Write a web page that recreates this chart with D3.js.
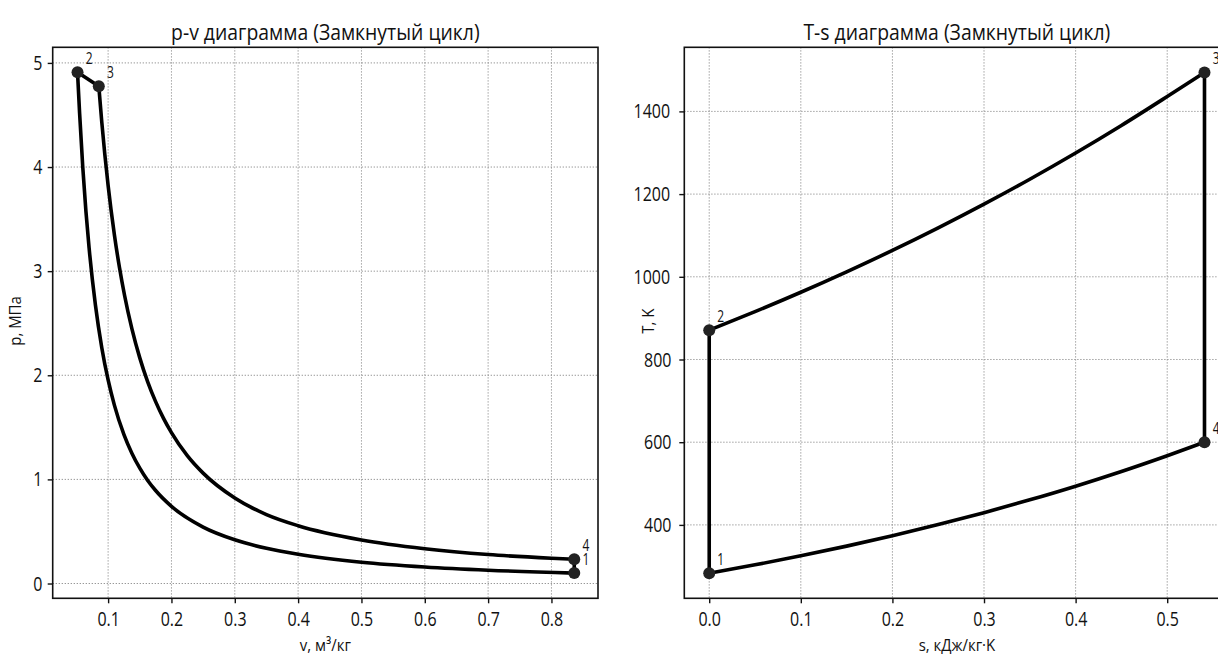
<!DOCTYPE html>
<html><head><meta charset="utf-8">
<script src="https://cdn.jsdelivr.net/npm/d3@7"></script>
<style>
body{margin:0;background:#fff;}
svg text{font-family:"Open Sans",sans-serif;font-weight:500;fill:#111;transform-box:fill-box;transform-origin:center;transform:scaleX(0.78);}
svg text.title{transform:scaleX(0.88);}
svg text.alab{transform:scaleX(0.88);}
svg text.ylab{transform:rotate(-90deg) scaleX(0.88);}
svg text.plab{transform:scaleX(0.75);}
</style></head>
<body><svg id="c" width="1218" height="659"></svg>
<script>
// ---- data ----
const pointNames = ["1","2","3","4"];
// p-v diagram
const pvPointV = [0.836, 0.0517, 0.0853, 0.836];
const pvPointP = [0.100, 4.91, 4.776, 0.233];
const compV = [0.0517,0.055,0.06,0.065,0.07,0.08,0.09,0.1,0.11,0.125,0.1375,0.15,0.1625,0.175,0.2,0.25,0.3,0.35,0.4,0.5,0.6,0.7,0.836];
const compP = [4.91,4.515,3.996,3.572,3.221,2.672,2.265,1.955,1.711,1.43,1.252,1.108,0.99,0.893,0.741,0.542,0.42,0.338,0.281,0.205,0.159,0.128,0.100];
const expV = [0.0853,0.09,0.1,0.11,0.118,0.126,0.1375,0.15,0.1625,0.175,0.1875,0.2,0.225,0.25,0.3,0.35,0.4,0.5,0.6,0.7,0.8,0.836];
const expP = [4.776,4.431,3.823,3.346,3.032,2.766,2.448,2.167,1.937,1.747,1.586,1.449,1.228,1.06,0.821,0.662,0.555,0.418,0.334,0.278,0.243,0.233];
const vTicks = [0.1,0.2,0.3,0.4,0.5,0.6,0.7,0.8];
const pTicks = [0,1,2,3,4,5];
// T-s diagram
const tsPointS = [0, 0, 0.5407, 0.5407];
const tsPointT = [283, 871, 1494, 600];
const heatS = [0,0.05,0.1,0.15,0.2,0.25,0.3,0.35,0.4,0.45,0.5,0.5407];
const heatT = [871,915.7,962.6,1012,1063.8,1118.4,1175.7,1236,1299.4,1366,1436,1494];
const coolS = [0,0.05,0.1,0.15,0.2,0.25,0.3,0.35,0.4,0.45,0.5,0.5407];
const coolT = [283,303.4,325.3,348.7,373.8,400.7,429.6,460.6,493.7,529.3,567.4,600];
const sTicks = [0,0.1,0.2,0.3,0.4,0.5];
const tTicks = [400,600,800,1000,1200,1400];
const titles = ["p-v диаграмма (Замкнутый цикл)","T-s диаграмма (Замкнутый цикл)"];
const xLabels = ["v, м³/кг","s, кДж/кг·K"];
const yLabels = ["p, МПа","T, K"];

const svg = d3.select("#c");

function panel(o){
  const g = svg.append("g");
  const x = d3.scaleLinear().domain(o.xd).range([o.x0,o.x1]);
  const y = d3.scaleLinear().domain(o.yd).range([o.y1,o.y0]);
  // grid
  g.append("g").selectAll("line").data(o.xt).join("line")
    .attr("x1",d=>x(d)).attr("x2",d=>x(d)).attr("y1",o.y0).attr("y2",o.y1)
    .attr("stroke","#8c8c8c").attr("stroke-width",1).attr("stroke-dasharray","1.2,1.8");
  g.append("g").selectAll("line").data(o.yt).join("line")
    .attr("y1",d=>y(d)).attr("y2",d=>y(d)).attr("x1",o.x0).attr("x2",o.x1)
    .attr("stroke","#8c8c8c").attr("stroke-width",1).attr("stroke-dasharray","1.2,1.8");
  // axes
  const xa = g.append("g").attr("transform",`translate(0,${o.y1})`)
    .call(d3.axisBottom(x).tickValues(o.xt).tickFormat(o.xf).tickSize(5).tickPadding(8));
  const ya = g.append("g").attr("transform",`translate(${o.x0},0)`)
    .call(d3.axisLeft(y).tickValues(o.yt).tickFormat(o.yf).tickSize(5).tickPadding(4));
  [xa,ya].forEach(a=>{a.select(".domain").remove();a.selectAll("line").attr("stroke","#111").attr("stroke-width",1.4);
    a.selectAll("text").attr("font-size",20.5).attr("fill","#111");});
  // frame
  g.append("rect").attr("x",o.x0).attr("y",o.y0).attr("width",o.x1-o.x0).attr("height",o.y1-o.y0)
    .attr("fill","none").attr("stroke","#111").attr("stroke-width",1.6);
  // curves
  const lineMono = d3.line().x(d=>x(d[0])).y(d=>y(d[1])).curve(d3.curveMonotoneX);
  const lineLin = d3.line().x(d=>x(d[0])).y(d=>y(d[1]));
  o.curves.forEach(c=>{
    g.append("path").attr("d",(c.mono?lineMono:lineLin)(c.pts)).attr("fill","none")
      .attr("stroke","#000").attr("stroke-width",3.6).attr("stroke-linejoin","round").attr("stroke-linecap","round");
  });
  // points
  o.pts.forEach((p,i)=>{
    g.append("circle").attr("cx",x(p[0])).attr("cy",y(p[1])).attr("r",6).attr("fill","#222");
    g.append("text").attr("class","plab").attr("x",x(p[0])+7).attr("y",y(p[1])-8.5).attr("font-size",16).text(pointNames[i]);
  });
  // titles
  const cx = (o.x0+o.x1)/2;
  g.append("text").attr("class","title").attr("x",cx).attr("y",40).attr("text-anchor","middle").attr("font-size",22).text(o.title);
  g.append("text").attr("class","alab").attr("x",cx).attr("y",651).attr("text-anchor","middle").attr("font-size",17).text(o.xl);
  g.append("text").attr("class","ylab").attr("x",o.yl_x).attr("y",(o.y0+o.y1)/2).attr("text-anchor","middle")
    .attr("dominant-baseline","middle").attr("font-size",17).text(o.yl);
}

panel({
  x0:52.7,x1:598,y0:47.3,y1:598.3,
  xd:[0.0125,0.8735], yd:[-0.142,5.15],
  xt:vTicks, yt:pTicks, xf:d3.format(".1f"), yf:d3.format("d"),
  title:titles[0], xl:xLabels[0], yl:yLabels[0], yl_x:15,
  curves:[
    {mono:true, pts:compV.map((v,i)=>[v,compP[i]])},
    {mono:false, pts:[[pvPointV[1],pvPointP[1]],[pvPointV[2],pvPointP[2]]]},
    {mono:true, pts:expV.map((v,i)=>[v,expP[i]])},
    {mono:false, pts:[[pvPointV[3],pvPointP[3]],[pvPointV[0],pvPointP[0]]]}
  ],
  pts:pvPointV.map((v,i)=>[v,pvPointP[i]])
});

panel({
  x0:684.3,x1:1229.5,y0:47.3,y1:598.3,
  xd:[-0.0272,0.5680], yd:[222.5,1555],
  xt:sTicks, yt:tTicks, xf:d3.format(".1f"), yf:d3.format("d"),
  title:titles[1], xl:xLabels[1], yl:yLabels[1], yl_x:648,
  curves:[
    {mono:false, pts:[[tsPointS[0],tsPointT[0]],[tsPointS[1],tsPointT[1]]]},
    {mono:true, pts:heatS.map((s,i)=>[s,heatT[i]])},
    {mono:false, pts:[[tsPointS[2],tsPointT[2]],[tsPointS[3],tsPointT[3]]]},
    {mono:true, pts:coolS.map((s,i)=>[s,coolT[i]])}
  ],
  pts:tsPointS.map((s,i)=>[s,tsPointT[i]])
});
</script></body></html>
